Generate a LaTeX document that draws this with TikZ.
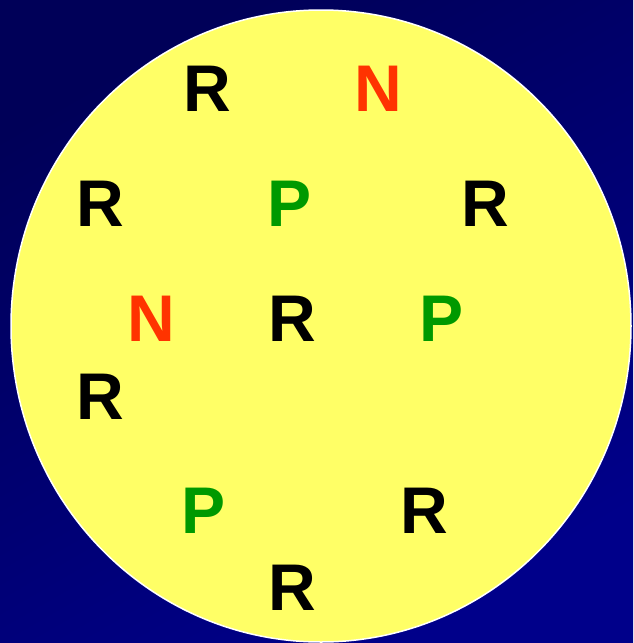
\documentclass[tikz,border=0pt]{standalone}
\usepackage{fontspec}
\setmainfont{Liberation Sans}
\usepackage{tikz}
\usetikzlibrary{positioning}
\definecolor{bgdark}{HTML}{000058}
\definecolor{bglight}{HTML}{00008A}
\definecolor{disc}{HTML}{FFFF66}
\definecolor{nred}{HTML}{FF3300}
\definecolor{pgreen}{HTML}{009900}
\tikzset{
  ltr/.style={inner sep=0pt,font=\bfseries\fontsize{66}{66}\selectfont},
  rl/.style={ltr,text=black},
  nl/.style={ltr,text=nred},
  pl/.style={ltr,text=pgreen},
}
\begin{document}
\begin{tikzpicture}[x=1pt,y=-1pt]
  \useasboundingbox (0,0) rectangle (633,643);
  % background and disc
  \shade[top color=bgdark,bottom color=bglight,shading angle=30] (0,0) rectangle (633,643);
  \draw[white,line width=1.5pt,fill=disc] (321,326) ellipse [x radius=310,y radius=316];
  % letters
  \node[rl] (r1) at (207,89) {R};
  \node[nl] (n1) at (378.5,89) {N};
  \node[rl] (r2) at (100,204) {R};
  \node[pl] (p1) at (290,204) {P};
  \node[rl] (r3) at (485,204) {R};
  \node[nl] (n2) at (151.5,319) {N};
  \node[rl] (r4) at (292.5,319) {R};
  \node[pl] (p2) at (442,319) {P};
  \node[rl] (r5) at (100,396.5) {R};
  \node[pl] (p3) at (204,511) {P};
  \node[rl] (r6) at (424.5,511) {R};
  \node[rl] (r7) at (292,588) {R};
\end{tikzpicture}
\end{document}
